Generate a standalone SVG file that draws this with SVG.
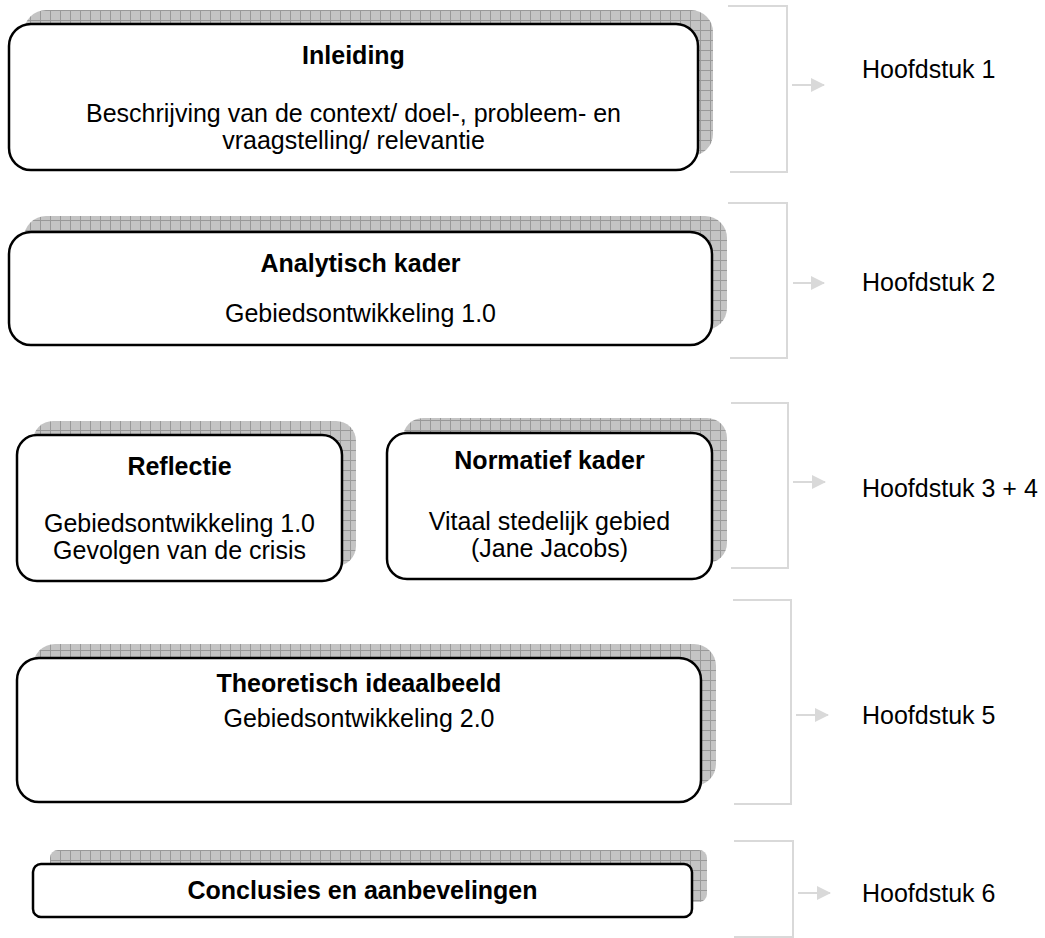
<svg xmlns="http://www.w3.org/2000/svg" width="1045" height="938" viewBox="0 0 1045 938">
<defs>
<pattern id="grid" x="0" y="0" width="10" height="10" patternUnits="userSpaceOnUse">
<rect width="10" height="10" fill="#c4c4c4"/>
<path d="M0 0.5H10M0.5 0V10" stroke="#999" stroke-width="1" fill="none"/>
</pattern>
<marker id="arr" markerWidth="14" markerHeight="14" refX="13" refY="7" orient="auto" markerUnits="userSpaceOnUse">
<path d="M0 0L14 7L0 14Z" fill="#d9d9d9"/>
</marker>
</defs>
<style>
.shadow{fill:url(#grid);stroke:none}
.box{fill:#fff;stroke:#000;stroke-width:2.5}
.title{font-family:"Liberation Sans",Arial,sans-serif;font-size:25px;font-weight:bold;text-anchor:middle;fill:#000}
.body{font-family:"Liberation Sans",Arial,sans-serif;font-size:25px;text-anchor:middle;fill:#000}
.label{font-family:"Liberation Sans",Arial,sans-serif;font-size:25px;fill:#000}
.bracket{fill:none;stroke:#d9d9d9;stroke-width:2}
.arrow{fill:none;stroke:#d9d9d9;stroke-width:2;marker-end:url(#arr)}
</style>
<rect width="1045" height="938" fill="#fff"/>
<g id="inleiding">
<rect class="shadow" x="24" y="10" width="689" height="146" rx="22"/>
<rect class="box" x="9" y="24" width="689" height="146" rx="22"/>
<text class="title" x="353.5" y="64">Inleiding</text>
<text class="body" x="353.5" y="122">Beschrijving van de context/ doel-, probleem- en</text>
<text class="body" x="353.5" y="149">vraagstelling/ relevantie</text>
</g>
<g id="analytisch">
<rect class="shadow" x="24" y="216" width="703" height="114" rx="22"/>
<rect class="box" x="9" y="232" width="703" height="113" rx="22"/>
<text class="title" x="360.5" y="272">Analytisch kader</text>
<text class="body" x="360.5" y="322">Gebiedsontwikkeling 1.0</text>
</g>
<g id="reflectie">
<rect class="shadow" x="33" y="421" width="323" height="145" rx="20"/>
<rect class="box" x="17" y="435" width="325" height="146" rx="20"/>
<text class="title" x="179.5" y="475">Reflectie</text>
<text class="body" x="179.5" y="532">Gebiedsontwikkeling 1.0</text>
<text class="body" x="179.5" y="559">Gevolgen van de crisis</text>
</g>
<g id="normatief">
<rect class="shadow" x="403" y="418" width="324" height="145" rx="20"/>
<rect class="box" x="387" y="433" width="325" height="146" rx="20"/>
<text class="title" x="549.5" y="469">Normatief kader</text>
<text class="body" x="549.5" y="530">Vitaal stedelijk gebied</text>
<text class="body" x="549.5" y="557">(Jane Jacobs)</text>
</g>
<g id="theoretisch">
<rect class="shadow" x="33" y="644" width="683" height="142" rx="22"/>
<rect class="box" x="17" y="658" width="684" height="144" rx="22"/>
<text class="title" x="359" y="692">Theoretisch ideaalbeeld</text>
<text class="body" x="359" y="727">Gebiedsontwikkeling 2.0</text>
</g>
<g id="conclusies">
<rect class="shadow" x="50" y="850" width="657" height="52" rx="8"/>
<rect class="box" x="33" y="864" width="659" height="53" rx="8"/>
<text class="title" x="362.5" y="899">Conclusies en aanbevelingen</text>
</g>
<g id="hoofdstuk1">
<text class="label" x="862" y="78">Hoofdstuk 1</text>
</g>
<g id="hoofdstuk2">
<text class="label" x="862" y="291">Hoofdstuk 2</text>
</g>
<g id="hoofdstuk34">
<text class="label" x="862" y="497">Hoofdstuk 3 + 4</text>
</g>
<g id="hoofdstuk5">
<text class="label" x="862" y="724">Hoofdstuk 5</text>
</g>
<g id="hoofdstuk6">
<text class="label" x="862" y="902">Hoofdstuk 6</text>
</g>
<g id="connectors">
<path class="bracket" d="M728 6H787V172H730"/>
<path class="bracket" d="M728 203H787V358H730"/>
<path class="bracket" d="M731 403H788V568H731"/>
<path class="bracket" d="M733 600H791V804H734"/>
<path class="bracket" d="M734 841H793V937H734"/>
<path class="arrow" d="M792 85H824"/>
<path class="arrow" d="M793 283H824"/>
<path class="arrow" d="M793 482H825"/>
<path class="arrow" d="M796 715H828"/>
<path class="arrow" d="M798 893H830"/>
</g>
</svg>
